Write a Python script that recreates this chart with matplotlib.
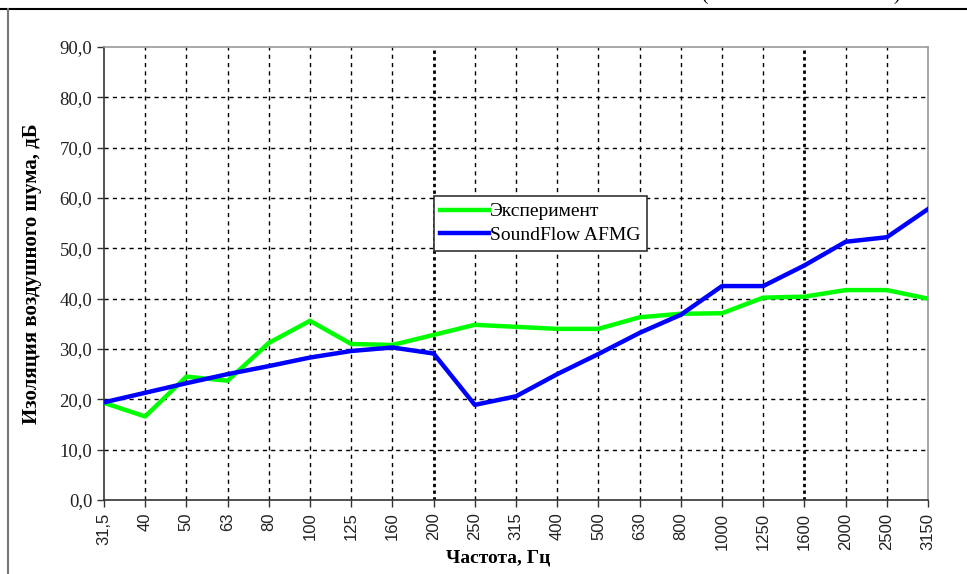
import matplotlib
matplotlib.use("Agg")
import matplotlib.pyplot as plt
from matplotlib.lines import Line2D

# third-octave bands, Hz
freqs = ["31,5", "40", "50", "63", "80", "100", "125", "160", "200", "250", "315",
         "400", "500", "630", "800", "1000", "1250", "1600", "2000", "2500", "3150"]
# measured insulation, dB
experiment = [19.3, 16.6, 24.5, 23.7, 31.2, 35.6, 31.0, 30.8, 32.8, 34.8, 34.4,
              34.0, 34.0, 36.3, 37.0, 37.1, 40.2, 40.4, 41.7, 41.7, 40.0]
# SoundFlow AFMG model, dB
soundflow = [19.4, 21.3, 23.2, 25.0, 26.6, 28.3, 29.6, 30.3, 29.1, 18.9, 20.6,
             25.0, 29.0, 33.2, 36.8, 42.5, 42.5, 46.6, 51.3, 52.2, 57.8]
yticks = [0, 10, 20, 30, 40, 50, 60, 70, 80, 90]
heavy = ["200", "1600"]

serif = "Liberation Serif"

fig = plt.figure(figsize=(9.67, 5.74), dpi=100)
ax = fig.add_axes([0.1075, 0.1289, 0.8522, 0.7893])

x = list(range(len(freqs)))

# grid
for i, f in enumerate(freqs[1:-1], start=1):
    if f in heavy:
        ax.axvline(i, color="black", lw=2.0, ls=(0, (1.2, 1.2)), zorder=1)
    else:
        ax.axvline(i, color="black", lw=1.0, ls=(0, (3, 3)), zorder=1)
for v in yticks[1:-1]:
    ax.axhline(v, color="black", lw=1.0, ls=(0, (3, 3)), zorder=1)

ax.plot(x, experiment, color="#00ff00", lw=3.2, label="Эксперимент", zorder=3)
ax.plot(x, soundflow, color="#0000ff", lw=3.2, label="SoundFlow AFMG", zorder=3)

ax.set_xlim(0, len(freqs) - 1)
ax.set_ylim(0, 90)
ax.set_xticks(x)
ax.set_xticklabels(freqs, rotation=90, fontsize=12, family="Liberation Sans", color="#222222")
ax.set_yticks(yticks)
ax.set_yticklabels([f"{v:.1f}".replace(".", ",") for v in yticks],
                   fontsize=13.5, family=serif, color="#222222")
ax.tick_params(direction="out", length=5, width=1, color="#333333")
ax.tick_params(axis="x", pad=4)

for s in ["left", "bottom"]:
    ax.spines[s].set_color("#333333")
    ax.spines[s].set_linewidth(1.2)
for s in ["top", "right"]:
    ax.spines[s].set_color("#999999")
    ax.spines[s].set_linewidth(1.2)

ax.set_ylabel("Изоляция воздушного шума, дБ", family=serif, fontweight="bold",
              fontsize=15)
ax.yaxis.set_label_coords(-0.075, 0.5)
ax.set_xlabel("Частота, Гц", family=serif, fontweight="bold", fontsize=14)
ax.xaxis.set_label_coords(0.479, -0.110)

leg = ax.legend(loc="upper left", bbox_to_anchor=(0.40, 0.671), borderaxespad=0,
                prop={"family": serif, "size": 14}, fancybox=False, framealpha=1,
                edgecolor="#333333", handlelength=2.5, handletextpad=0.05,
                borderpad=0.35, labelspacing=0.3)
leg.get_frame().set_linewidth(1.2)

# page frame lines
fig.add_artist(Line2D([0, 1], [1 - 9 / 574, 1 - 9 / 574], color="black", lw=1.5,
                      transform=fig.transFigure))
fig.add_artist(Line2D([8 / 967, 8 / 967], [0, 1 - 9 / 574], color="#777777", lw=1.5,
                      transform=fig.transFigure))
fig.text(0.829, 1.008, "(                                      )", family=serif,
         fontsize=14, ha="center", va="center")

fig.savefig("out.png", dpi=100)
